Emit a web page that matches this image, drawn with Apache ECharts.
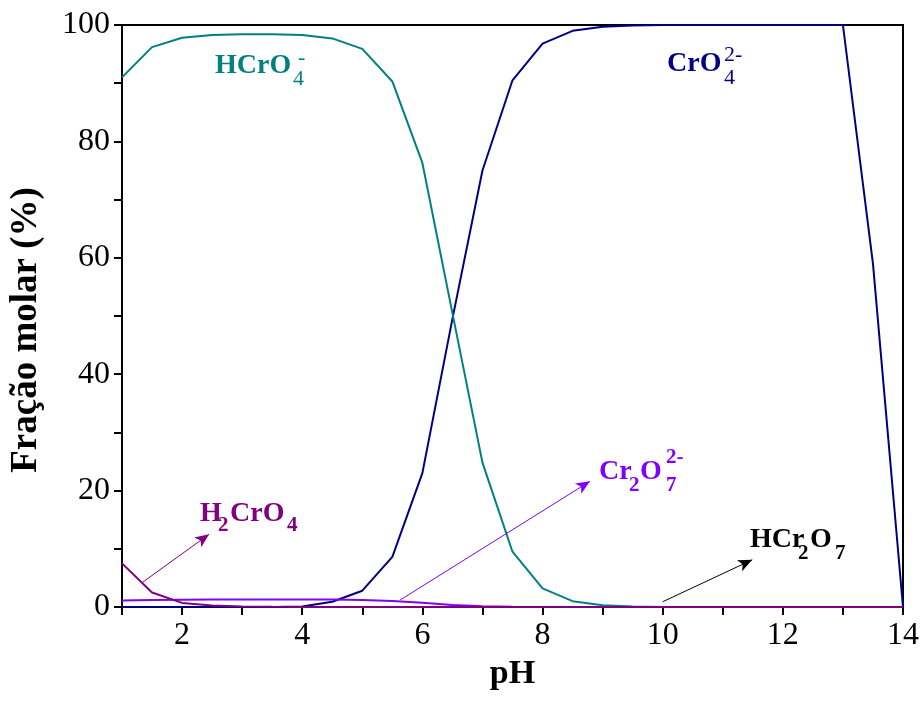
<!DOCTYPE html>
<html><head><meta charset="utf-8">
<script src="https://cdn.jsdelivr.net/npm/echarts@6/dist/echarts.min.js"></script>
<style>html,body{margin:0;padding:0;background:#fff}#c{width:920px;height:715px}</style>
</head><body><div id="c"></div>
<script>
const ph      = [1,1.5,2,2.5,3,3.5,4,4.5,5,5.5,6,6.5,7,7.5,8,8.5,9,9.5,10,10.5,11,11.5,12,12.5,13,13.5,14];
const hcro4   = [91.0,96.2,97.8,98.3,98.4,98.4,98.3,97.7,95.9,90.3,76.3,50.5,24.8,9.5,3.2,1.0,0.3,0.1,0,0,0,0,0,0,0,0,0];
const cro4    = [0,0,0,0,0,0.02,0.1,0.9,2.8,8.6,23.0,49.5,75.0,90.5,96.8,99.0,99.7,99.9,100,100,100,100,100,100,100,59,0];
const h2cro4  = [7.5,2.5,0.7,0.25,0.08,0.03,0.01,0,0,0,0,0,0,0,0,0,0,0,0,0,0,0,0,0,0,0,0];
const cr2o7   = [1.1,1.2,1.25,1.3,1.3,1.3,1.3,1.3,1.2,1.05,0.75,0.35,0.12,0.04,0.01,0,0,0,0,0,0,0,0,0,0,0,0];
const hcr2o7  = [0,0,0,0,0,0,0,0,0,0,0,0,0,0,0,0,0,0,0,0,0,0,0,0,0,0,0];
const xTicks = [2,4,6,8,10,12,14];
const yTicks = [0,20,40,60,80,100];
// annotation arrows in data coords [from, to]
const arrowH2 = [[1.35,4.3],[2.45,12.5]];
const arrowCr2 = [[5.63,1.2],[8.79,21.6]];
const arrowHCr2 = [[10.0,0.9],[11.49,8.1]];

const F = '"Liberation Serif", "Times New Roman", serif';
const pair = (xs, ys) => xs.map((x,i)=>[x, ys[i]]);
function arrow(a, color){
  return {type:'line', data:[], silent:true, markLine:{silent:true, symbol:['none','arrow'], symbolSize:[9,14], label:{show:false},
    lineStyle:{color:color, width:1, type:'solid'},
    data:[[{coord:a[0]},{coord:a[1]}]]}};
}
function line(name, data, color){
  return {name, type:'line', data:pair(ph,data), showSymbol:false, lineStyle:{color, width:2}, itemStyle:{color}, z:3};
}
function txt(x,y,s,size,color,bold){
  return {type:'text', x:x, y:y, z:10,
    style:{text:s, font:(bold===false?'':'bold ')+size+'px '+F, fill:color, verticalAlign:'middle', align:'left'}};
}
const chart = echarts.init(document.getElementById('c'));
const teal='#008080', navy='#000080', purp='#800080', viol='#8000FF', blk='#000000';
chart.setOption({
  animation:false,
  backgroundColor:'#fff',
  grid:{left:122, right:17, top:25, bottom:108, outerBoundsMode:'none', containLabel:false,
    show:true, borderColor:'#000', borderWidth:2, backgroundColor:'transparent'},
  xAxis:{type:'value', min:1, max:14, interval:1,
    name:'pH', nameLocation:'middle', nameGap:46, nameTextStyle:{fontFamily:F, fontWeight:'bold', fontSize:34, color:'#000'},
    axisLine:{show:true, onZero:false, lineStyle:{color:'#000', width:2}},
    axisTick:{show:true, inside:false, length:8, lineStyle:{color:'#000', width:2}, interval:0},
    axisLabel:{fontFamily:F, fontSize:32, color:'#000', margin:13,
      formatter:v=> xTicks.indexOf(v)>=0 ? String(v) : ''},
    splitLine:{show:false}},
  yAxis:{type:'value', min:0, max:100, interval:10,
    name:'Fração molar (%)', nameLocation:'middle', nameGap:77, nameTextStyle:{fontFamily:F, fontWeight:'bold', fontSize:37, color:'#000', padding:[0,28,0,0]},
    axisLine:{show:true, lineStyle:{color:'#000', width:2}},
    axisTick:{show:true, inside:false, length:8, lineStyle:{color:'#000', width:2}},
    axisLabel:{fontFamily:F, fontSize:32, color:'#000', margin:12,
      formatter:v=> yTicks.indexOf(v)>=0 ? String(v) : ''},
    splitLine:{show:false}},
  series:[
    line('HCr2O7', hcr2o7, blk),
    line('CrO4', cro4, navy),
    line('HCrO4', hcro4, teal),
    line('Cr2O7', cr2o7, viol),
    line('H2CrO4', h2cro4, purp),
    arrow(arrowH2, purp),
    arrow(arrowCr2, viol),
    arrow(arrowHCr2, blk)
  ],
  graphic:[
    txt(215,66,'HCrO',28,teal), txt(293,79,'4',22,teal,false), txt(298,58,'-',22,teal,false),
    txt(667,64,'CrO',28,navy), txt(724,78,'4',22,navy,false), txt(724,55,'2-',22,navy,false),
    txt(200,514,'H',28,purp), txt(218,526,'2',21,purp), txt(230,514,'CrO',28,purp), txt(287,526,'4',21,purp),
    txt(599,472,'Cr',28,viol), txt(629,486,'2',21,viol), txt(640,472,'O',28,viol), txt(666,486,'7',21,viol), txt(666,458,'2-',21,viol),
    txt(750,540,'HCr',28,blk), txt(798,554,'2',21,blk), txt(810,540,'O',28,blk), txt(835,554,'7',21,blk)
  ]
});
</script></body></html>
